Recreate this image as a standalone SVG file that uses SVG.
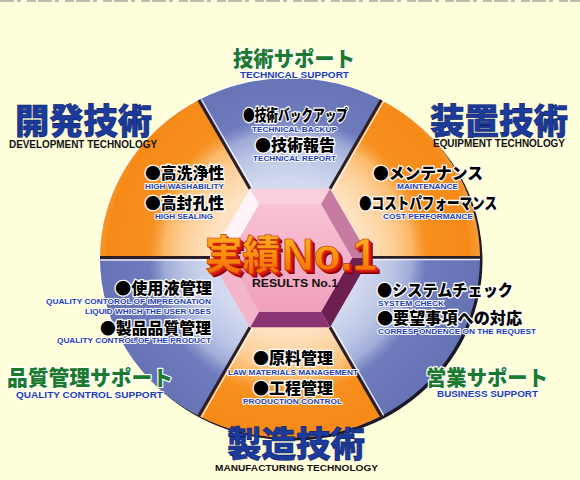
<svg xmlns="http://www.w3.org/2000/svg" xmlns:xlink="http://www.w3.org/1999/xlink" width="580" height="480" viewBox="0 0 580 480">
<defs>
<style>
.jp{font-family:"Noto Sans CJK JP","Noto Sans CJK SC",sans-serif;}
.en{font-family:"Liberation Sans",Arial,sans-serif;font-weight:bold;}
.big{font-weight:900;fill:#1b3a9c;stroke:#0c1f66;stroke-width:0.6;}
.green{font-weight:900;fill:#1c7a30;stroke:#ffffff;stroke-width:2.4;paint-order:stroke;stroke-linejoin:round;}
.lab{font-weight:900;fill:#000;stroke:#ffffff;stroke-width:2.6;paint-order:stroke;stroke-linejoin:round;}
.eb{fill:#1d3db4;stroke:#ffffff;stroke-width:1.8;paint-order:stroke;stroke-linejoin:round;}
.ek{fill:#111;}
.sep{stroke:#2b1e28;stroke-width:3;fill:none;}
.hl{stroke:#ffffff;stroke-width:1.3;fill:none;opacity:0.85;}
</style>
<radialGradient id="gOr" gradientUnits="userSpaceOnUse" cx="288" cy="256" r="190">
<stop offset="0" stop-color="#fff4e6"/>
<stop offset="0.4" stop-color="#fee2c0"/>
<stop offset="0.55" stop-color="#fdd09a"/>
<stop offset="0.65" stop-color="#fbb968"/>
<stop offset="0.69" stop-color="#f9a03e"/>
<stop offset="0.73" stop-color="#f7901e"/>
<stop offset="0.95" stop-color="#f68a18"/>
<stop offset="1" stop-color="#f89a32"/>
</radialGradient>
<radialGradient id="gBl" gradientUnits="userSpaceOnUse" cx="288" cy="256" r="190">
<stop offset="0" stop-color="#eceffa"/>
<stop offset="0.4" stop-color="#d2d9ef"/>
<stop offset="0.55" stop-color="#bcc5e5"/>
<stop offset="0.65" stop-color="#a0abd7"/>
<stop offset="0.69" stop-color="#8390c8"/>
<stop offset="0.73" stop-color="#6e7bbd"/>
<stop offset="1" stop-color="#6572b4"/>
</radialGradient>
<linearGradient id="gPink" x1="0" y1="0" x2="0" y2="1">
<stop offset="0" stop-color="#f8c3d4"/>
<stop offset="1" stop-color="#f19fba"/>
</linearGradient>
<linearGradient id="gNo1" x1="0" y1="0" x2="0" y2="1">
<stop offset="0" stop-color="#ffc030"/>
<stop offset="0.5" stop-color="#ff9410"/>
<stop offset="1" stop-color="#f05a00"/>
</linearGradient>
<text id="tJis" class="jp" x="205" y="269" font-size="40" font-weight="900" textLength="75" lengthAdjust="spacingAndGlyphs">実績</text>
<text id="tNo" class="en" x="282" y="270" font-size="45" textLength="95" lengthAdjust="spacingAndGlyphs">No.1</text>
</defs>

<rect x="0" y="0" width="580" height="480" fill="#fffedb"/>
<line x1="0" y1="1" x2="580" y2="1" stroke="#8a8a8a" stroke-width="2" stroke-dasharray="14 3 4 6 9 2" opacity="0.55"/>

<g id="segments">
<ellipse cx="292.5" cy="260.5" rx="190" ry="180" fill="#1c1a2a"/>
<ellipse cx="288.8" cy="256.8" rx="190" ry="180" fill="#ffffff" opacity="0.85"/>
<path id="shape-top" d="M330,188.7 L381.2,100 A190,180 0 0 0 198.8,100 L250,188.7 Z" fill="url(#gBl)"/>
<path id="shape-upper-right" d="M370,258 L480,258 A190,180 0 0 0 381.2,100 L330,188.7 Z" fill="url(#gOr)"/>
<path id="shape-lower-right" d="M330,327.3 L381.2,416 A190,180 0 0 0 480,258 L370,258 Z" fill="url(#gBl)"/>
<path id="shape-bottom" d="M250,327.3 L198.8,416 A190,180 0 0 0 381.2,416 L330,327.3 Z" fill="url(#gOr)"/>
<path id="shape-lower-left" d="M210,258 L100,258 A190,180 0 0 0 198.8,416 L250,327.3 Z" fill="url(#gBl)"/>
<path id="shape-upper-left" d="M250,188.7 L198.8,100 A190,180 0 0 0 100,258 L210,258 Z" fill="url(#gOr)"/>
</g>

<g id="connectors">
<line class="sep" x1="330" y1="188.7" x2="381.2" y2="100"/>
<line class="hl" x1="332.6" y1="189.5" x2="383.8" y2="101"/>
<line class="sep" x1="250" y1="188.7" x2="198.8" y2="100"/>
<line class="hl" x1="252.6" y1="188" x2="201.4" y2="99.5"/>
<line class="sep" x1="210" y1="257.5" x2="100" y2="257.5"/>
<line class="hl" x1="210" y1="260" x2="100.5" y2="260"/>
<line class="sep" x1="370" y1="257.5" x2="480" y2="257.5" stroke-width="2"/>
<line class="hl" x1="370" y1="259.5" x2="480" y2="259.5"/>
<line class="sep" x1="250" y1="327.3" x2="198.8" y2="416"/>
<line class="hl" x1="252.6" y1="328" x2="201.4" y2="417"/>
<line class="sep" x1="330" y1="327.3" x2="381.2" y2="416" stroke="#4a2a2a"/>
<line class="hl" x1="332.6" y1="326.5" x2="383.8" y2="415.5"/>
</g>

<g id="seg-top">
<text class="jp green" x="233" y="65.5" font-size="21" textLength="122" lengthAdjust="spacingAndGlyphs">技術サポート</text>
<text class="en eb" x="240" y="78" font-size="8.5" textLength="109" lengthAdjust="spacingAndGlyphs">TECHNICAL SUPPORT</text>
<text class="jp lab" x="243" y="121" font-size="15.5" textLength="105" lengthAdjust="spacingAndGlyphs">●技術バックアップ</text>
<text class="en eb" x="252" y="132" font-size="8" textLength="85" lengthAdjust="spacingAndGlyphs">TECHNICAL BACKUP</text>
<text class="jp lab" x="255" y="151" font-size="16" textLength="80" lengthAdjust="spacingAndGlyphs">●技術報告</text>
<text class="en eb" x="253" y="161" font-size="8" textLength="83" lengthAdjust="spacingAndGlyphs">TECHNICAL REPORT</text>
</g>

<g id="seg-upper-right">
<text class="jp big" x="430" y="134" font-size="35" textLength="138" lengthAdjust="spacingAndGlyphs">装置技術</text>
<text class="en ek" x="433" y="147" font-size="10" textLength="132" lengthAdjust="spacingAndGlyphs">EQUIPMENT TECHNOLOGY</text>
<text class="jp lab" x="373" y="178.5" font-size="16" textLength="110" lengthAdjust="spacingAndGlyphs">●メンテナンス</text>
<text class="en eb" x="397" y="189" font-size="8" textLength="61" lengthAdjust="spacingAndGlyphs">MAINTENANCE</text>
<text class="jp lab" x="359" y="209" font-size="16" textLength="138" lengthAdjust="spacingAndGlyphs">●コストパフォーマンス</text>
<text class="en eb" x="383" y="219" font-size="8" textLength="90" lengthAdjust="spacingAndGlyphs">COST PERFORMANCE</text>
</g>

<g id="seg-lower-right">
<text class="jp lab" x="377" y="296" font-size="16" textLength="136" lengthAdjust="spacingAndGlyphs">●システムチェック</text>
<text class="en eb" x="378" y="306" font-size="7.5" textLength="66" lengthAdjust="spacingAndGlyphs">SYSTEM CHECK</text>
<text class="jp lab" x="377" y="324" font-size="16" textLength="145" lengthAdjust="spacingAndGlyphs">●要望事項への対応</text>
<text class="en eb" x="378" y="334" font-size="7.5" textLength="158" lengthAdjust="spacingAndGlyphs">CORRESPONDENCE ON THE REQUEST</text>
<text class="jp green" x="426" y="385" font-size="21" textLength="122" lengthAdjust="spacingAndGlyphs">営業サポート</text>
<text class="en eb" x="437" y="397" font-size="9.5" textLength="101" lengthAdjust="spacingAndGlyphs">BUSINESS SUPPORT</text>
</g>

<g id="seg-bottom">
<text class="jp lab" x="253" y="364" font-size="15.5" textLength="80" lengthAdjust="spacingAndGlyphs">●原料管理</text>
<text class="en eb" x="228" y="375" font-size="7.5" textLength="130" lengthAdjust="spacingAndGlyphs">LAW MATERIALS MANAGEMENT</text>
<text class="jp lab" x="253" y="394" font-size="16" textLength="80" lengthAdjust="spacingAndGlyphs">●工程管理</text>
<text class="en eb" x="243" y="404" font-size="7.5" textLength="99" lengthAdjust="spacingAndGlyphs">PRODUCTION CONTROL</text>
<text class="jp big" x="227" y="456.5" font-size="35" textLength="138" lengthAdjust="spacingAndGlyphs">製造技術</text>
<text class="en ek" x="215" y="471" font-size="9.5" textLength="163" lengthAdjust="spacingAndGlyphs">MANUFACTURING TECHNOLOGY</text>
</g>

<g id="seg-lower-left">
<text class="jp lab" x="115" y="294" font-size="16" textLength="97" lengthAdjust="spacingAndGlyphs">●使用液管理</text>
<text class="en eb" x="46" y="304" font-size="7.5" textLength="165" lengthAdjust="spacingAndGlyphs">QUALITY CONTOROL OF IMPREGNATION</text>
<text class="en eb" x="85" y="314" font-size="7.5" textLength="126" lengthAdjust="spacingAndGlyphs">LIQUID WHICH THE USER USES</text>
<text class="jp lab" x="100" y="334" font-size="16" textLength="111" lengthAdjust="spacingAndGlyphs">●製品品質管理</text>
<text class="en eb" x="57" y="343" font-size="7.5" textLength="154" lengthAdjust="spacingAndGlyphs">QUALITY CONTROL OF THE PRODUCT</text>
<text class="jp green" x="7" y="385" font-size="21" textLength="166" lengthAdjust="spacingAndGlyphs">品質管理サポート</text>
<text class="en eb" x="16" y="398" font-size="9" textLength="147" lengthAdjust="spacingAndGlyphs">QUALITY CONTROL SUPPORT</text>
</g>

<g id="seg-upper-left">
<text class="jp big" x="15" y="134" font-size="35" textLength="137" lengthAdjust="spacingAndGlyphs">開発技術</text>
<text class="en ek" x="9" y="148" font-size="10" textLength="148" lengthAdjust="spacingAndGlyphs">DEVELOPMENT TECHNOLOGY</text>
<text class="jp lab" x="145" y="179" font-size="15.5" textLength="79" lengthAdjust="spacingAndGlyphs">●高洗浄性</text>
<text class="en eb" x="145" y="189" font-size="8" textLength="79" lengthAdjust="spacingAndGlyphs">HIGH WASHABILITY</text>
<text class="jp lab" x="145" y="209" font-size="15.5" textLength="79" lengthAdjust="spacingAndGlyphs">●高封孔性</text>
<text class="en eb" x="155" y="219" font-size="8" textLength="58" lengthAdjust="spacingAndGlyphs">HIGH SEALING</text>
</g>

<g id="center">
<polygon points="250,188.7 330,188.7 321,204.3 259,204.3" fill="#f9cfdc"/>
<polygon points="330,188.7 370,258 352,258 321,204.3" fill="#c87ba2"/>
<polygon points="370,258 330,327.3 321,311.7 352,258" fill="#6e1f52"/>
<polygon points="330,327.3 250,327.3 259,311.7 321,311.7" fill="#8c3474"/>
<polygon points="250,327.3 210,258 228,258 259,311.7" fill="#f3b5ca"/>
<polygon points="210,258 250,188.7 259,204.3 228,258" fill="#fff5f8"/>
<polygon points="352,258 321,204.3 259,204.3 228,258 259,311.7 321,311.7" fill="url(#gPink)"/>
<use href="#tJis" fill="#7a0000" transform="translate(4,4)"/>
<use href="#tJis" fill="#b00808" transform="translate(3,3)"/>
<use href="#tJis" fill="#d01414" transform="translate(2,2)"/>
<use href="#tJis" fill="#e02020" transform="translate(1,1)"/>
<use href="#tJis" fill="url(#gNo1)" stroke="#c03000" stroke-width="0.6"/>
<use href="#tNo" fill="#7a0000" transform="translate(4,4)"/>
<use href="#tNo" fill="#b00808" transform="translate(3,3)"/>
<use href="#tNo" fill="#d01414" transform="translate(2,2)"/>
<use href="#tNo" fill="#e02020" transform="translate(1,1)"/>
<use href="#tNo" fill="url(#gNo1)" stroke="#c03000" stroke-width="0.6"/>
<text class="en ek" x="252" y="287" font-size="11" textLength="86" lengthAdjust="spacingAndGlyphs">RESULTS No.1</text>
</g>
</svg>
